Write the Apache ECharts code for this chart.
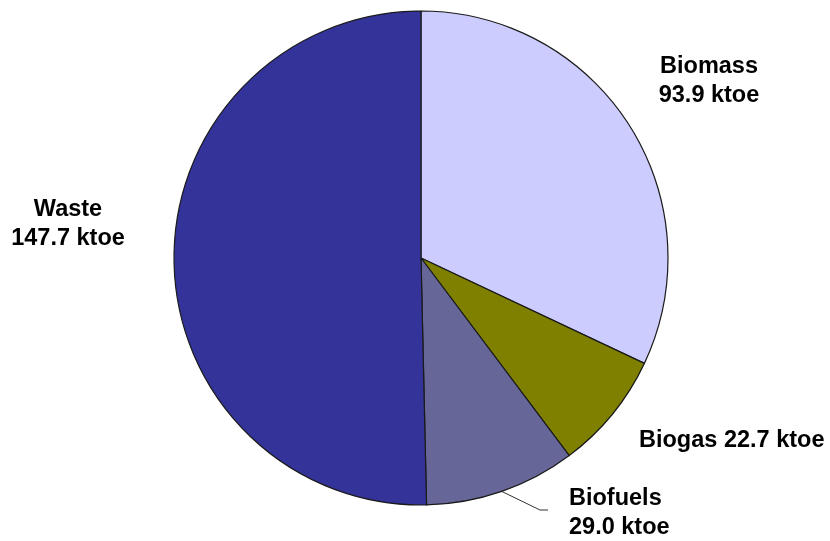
<!DOCTYPE html>
<html>
<head>
<meta charset="utf-8">
<script src="https://cdn.jsdelivr.net/npm/echarts@6/dist/echarts.min.js"></script>
<style>
  html, body { margin: 0; padding: 0; background: #ffffff; }
  #chart { width: 830px; height: 541px; }
</style>
</head>
<body>
<div id="chart"></div>
<script>
// Renewable energy sources, ktoe
const categories = ['Biomass', 'Biogas', 'Biofuels', 'Waste'];
const values = [93.9, 22.7, 29.0, 147.7];
const unit = 'ktoe';

const sliceColors = {
  Biomass: '#ccccff',
  Biogas: '#808000',
  Biofuels: '#666699',
  Waste: '#333399'
};

// Where each label sits around the pie
const labelPlacement = {
  Biomass:  { x: 709, y: 81,  align: 'center' },
  Biogas:   { x: 639, y: 441, align: 'left' },
  Biofuels: { x: 569, y: 513, align: 'left' },
  Waste:    { x: 68,  y: 224, align: 'center' }
};
const singleLine = ['Biogas'];
const withLeader = ['Biofuels'];

const chart = echarts.init(document.getElementById('chart'), null, { renderer: 'canvas' });

const data = categories.map((name, i) => ({
  name,
  value: values[i],
  itemStyle: { color: sliceColors[name] },
  labelLine: { show: withLeader.includes(name) }
}));

chart.setOption({
  animation: false,
  backgroundColor: '#ffffff',
  series: [{
    type: 'pie',
    center: [421, 258],
    radius: 247,
    startAngle: 90,
    clockwise: true,
    avoidLabelOverlap: false,
    data,
    itemStyle: { borderColor: '#1a1a1a', borderWidth: 1.2 },
    label: {
      show: true,
      position: 'outside',
      color: '#000000',
      fontFamily: 'Liberation Sans, Arial, sans-serif',
      fontWeight: 'bold',
      fontSize: 23.5,
      lineHeight: 29,
      formatter: p => singleLine.includes(p.name)
        ? `${p.name} ${p.value.toFixed(1)} ${unit}`
        : `${p.name}\n${p.value.toFixed(1)} ${unit}`
    },
    labelLine: {
      length: 20,
      length2: 10,
      lineStyle: { color: '#333333', width: 1 }
    },
    labelLayout: params => {
      const name = categories[params.dataIndex];
      const pl = labelPlacement[name];
      const out = { x: pl.x, y: pl.y, align: pl.align, verticalAlign: 'middle' };
      if (withLeader.includes(name) && params.labelLinePoints) {
        const start = params.labelLinePoints[0];
        out.labelLinePoints = [start, [pl.x - 29, pl.y - 3], [pl.x - 21, pl.y - 3]];
      }
      return out;
    },
    emphasis: { disabled: true }
  }]
});
</script>
</body>
</html>
